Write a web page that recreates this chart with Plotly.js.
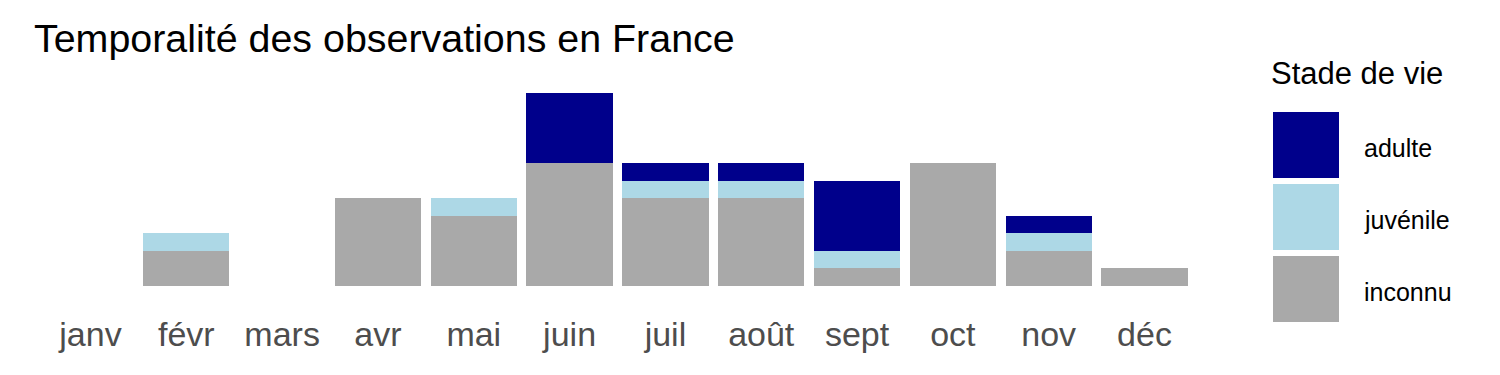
<!DOCTYPE html>
<html>
<head>
<meta charset="utf-8">
<script src="https://cdn.plot.ly/plotly-3.0.1.min.js"></script>
<style>html,body{margin:0;padding:0;background:#fff;}#chart{width:1500px;height:375px;}</style>
</head>
<body>
<div id="chart"></div>
<script>
const months = ["janv","févr","mars","avr","mai","juin","juil","août","sept","oct","nov","déc"];
const inconnu  = [0,2,0,5,4,7,5,5,1,7,2,1];
const juvenile = [0,1,0,0,1,0,1,1,1,0,1,0];
const adulte   = [0,0,0,0,0,4,1,1,4,0,1,0];
const stages = ["adulte","juvénile","inconnu"];
const colors = {"adulte":"#00008B","juvénile":"#ADD8E6","inconnu":"#A9A9A9"};

const W = 1500, H = 375;
const M = {l:33, r:298, t:83, b:89};
const pw = W - M.l - M.r, ph = H - M.t - M.b;
const px = x => (x - M.l) / pw;
const py = y => (H - M.b - y) / ph;
const FONT = '"Liberation Sans", Arial, sans-serif';

const mk = (name, vals) => ({
  type:'bar', name:name, x:months, y:vals,
  marker:{color:colors[name], line:{width:0}},
  showlegend:false, hoverinfo:'x+y+name'
});
const data = [mk("inconnu", inconnu), mk("juvénile", juvenile), mk("adulte", adulte)];

// custom ggplot-like legend
const shapes = [], annotations = [];
const keyTop = [112, 184, 256], keySize = 66;
stages.forEach((s, i) => {
  shapes.push({type:'rect', xref:'paper', yref:'paper',
    x0:px(1273), x1:px(1273+keySize), y0:py(keyTop[i]+keySize), y1:py(keyTop[i]),
    fillcolor:colors[s], line:{width:0}, layer:'above'});
  annotations.push({xref:'paper', yref:'paper', x:px(1362), y:py(keyTop[i]+keySize/2+3),
    xanchor:'left', yanchor:'middle', showarrow:false, text:s,
    font:{family:FONT, size:25, color:'#000'}});
});
annotations.push({xref:'paper', yref:'paper', x:px(1269), y:py(74),
  xanchor:'left', yanchor:'middle', showarrow:false, text:'Stade de vie',
  font:{family:FONT, size:31, color:'#000'}});

const layout = {
  width:W, height:H,
  margin:M,
  paper_bgcolor:'#fff', plot_bgcolor:'#fff',
  barmode:'stack', bargap:0.1,
  title:{text:'Temporalité des observations en France', xref:'container', yref:'container',
    x:34/W, xanchor:'left', y:1-38/H, yanchor:'middle',
    font:{family:FONT, size:39.4, color:'#000'}},
  xaxis:{type:'category', categoryarray:months, range:[-0.6, 11.6],
    showgrid:false, zeroline:false, showline:false, ticks:'',
    ticklabelstandoff:25,
    tickfont:{family:FONT, size:34, color:'#4D4D4D'}},
  yaxis:{range:[0, 11.55], showgrid:false, zeroline:false, showline:false,
    showticklabels:false, ticks:''},
  shapes:shapes, annotations:annotations,
  showlegend:false
};
Plotly.newPlot('chart', data, layout, {staticPlot:true});
</script>
</body>
</html>
